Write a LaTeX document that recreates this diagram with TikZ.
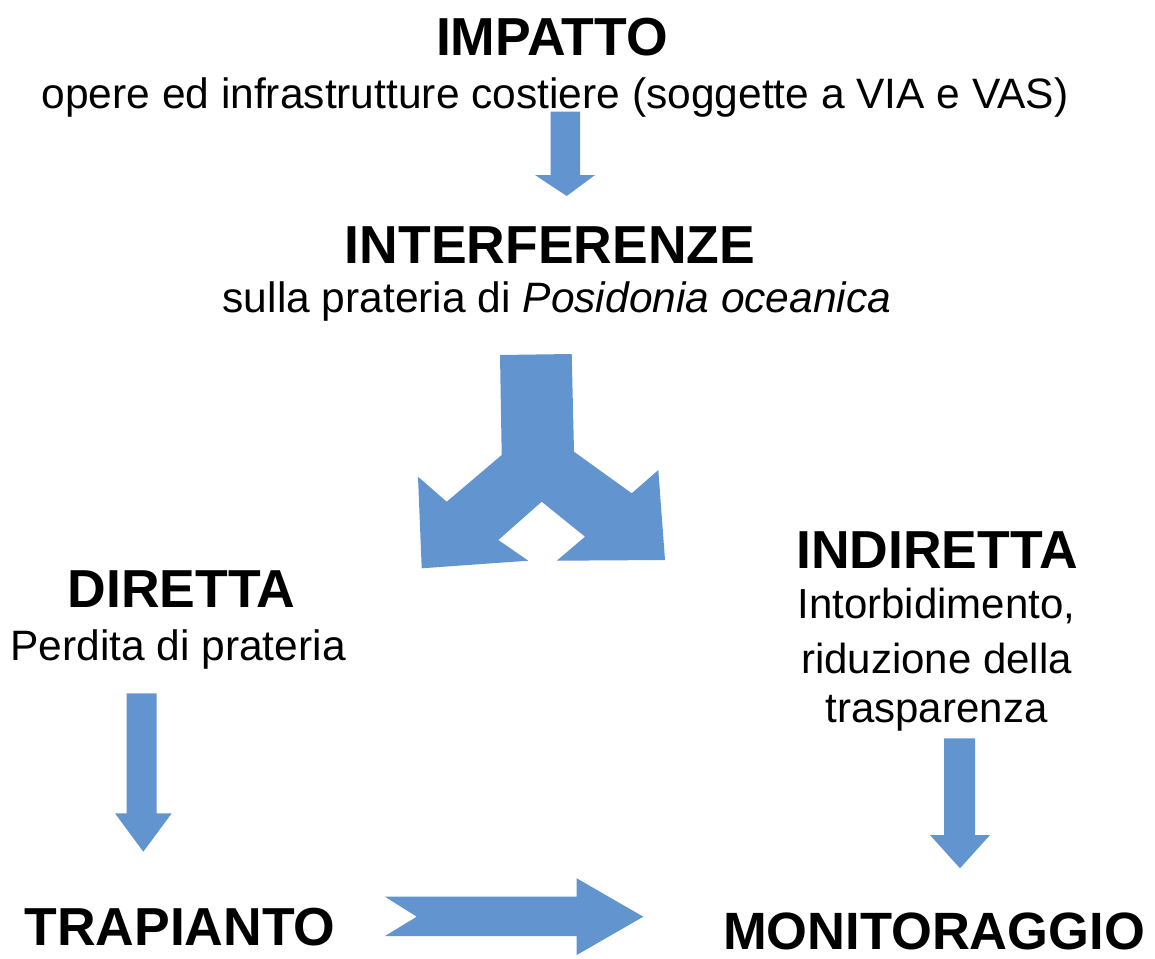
\documentclass[tikz,border=0pt]{standalone}
\usepackage{fontspec}
\setmainfont{Liberation Sans}
\definecolor{arrowblue}{RGB}{98,148,208}
\begin{document}
\begin{tikzpicture}[x=1pt,y=-1pt,
  title/.style={font=\fontsize{53.5}{60}\selectfont\bfseries, inner sep=0pt, anchor=base, text depth=0pt},
  sub/.style={font=\fontsize{42.5}{53}\selectfont, inner sep=0pt, anchor=base},
  blockarrow/.style={fill=arrowblue, draw=none}]
\useasboundingbox (0,0) rectangle (1155,958);
\node[title] (impatto) at (552,56) {IMPATTO};
\node[sub] (impattosub) at (555,108) {opere ed infrastrutture costiere (soggette a VIA e VAS)};
\node[title] (interf) at (550,263) {INTERFERENZE};
\node[sub] (interfsub) at (557,312) {sulla prateria di \textit{Posidonia oceanica}};
\node[title] (diretta) at (181.5,607) {DIRETTA};
\node[sub] (direttasub) at (178,660) {Perdita di prateria};
\node[title] (indiretta) at (937,568) {INDIRETTA};
\node[sub, font=\fontsize{42}{53}\selectfont] (indir1) at (936.5,618) {Intorbidimento,};
\node[sub, font=\fontsize{42}{53}\selectfont] (indir2) at (936.5,673) {riduzione della};
\node[sub, font=\fontsize{42}{53}\selectfont] (indir3) at (936.5,722) {trasparenza};
\node[title] (trapianto) at (180,945) {TRAPIANTO};
\node[title, font=\fontsize{52.5}{60}\selectfont\bfseries] (monitor) at (934,949) {MONITORAGGIO};
% arrow impatto -> interferenze
\fill[blockarrow] (550.7,111.7) -- (580,111.7) -- (580,175) -- (595,175) -- (566.7,196) -- (535,175) -- (550.7,175) -- cycle;
% split arrow
\fill[blockarrow] (500,355) -- (571.7,354) -- (574,451.7) -- (631.7,493.3) -- (658.3,470) -- (665,560) -- (556.7,560.7) -- (585,536.7) -- (541.7,501.7) -- (498.3,540) -- (528.3,560.7) -- (421.7,568.3) -- (418,476.7) -- (446.7,501.7) -- (501.7,455) -- cycle;
% diretta -> trapianto
\fill[blockarrow] (126.7,693.3) -- (156.7,693.3) -- (156.7,813.3) -- (171.7,813.3) -- (143.3,851.7) -- (115,813.3) -- (126.7,813.3) -- cycle;
% indiretta -> monitoraggio
\fill[blockarrow] (944,738.3) -- (975,738.3) -- (975,835) -- (990,835) -- (960,868.3) -- (930,835) -- (944,835) -- cycle;
% trapianto -> monitoraggio
\fill[blockarrow] (385,896.7) -- (576.7,896.7) -- (576.7,878.3) -- (643.3,916.7) -- (576.7,955) -- (576.7,936) -- (385,936) -- (416.7,916.7) -- cycle;
\end{tikzpicture}
\end{document}
